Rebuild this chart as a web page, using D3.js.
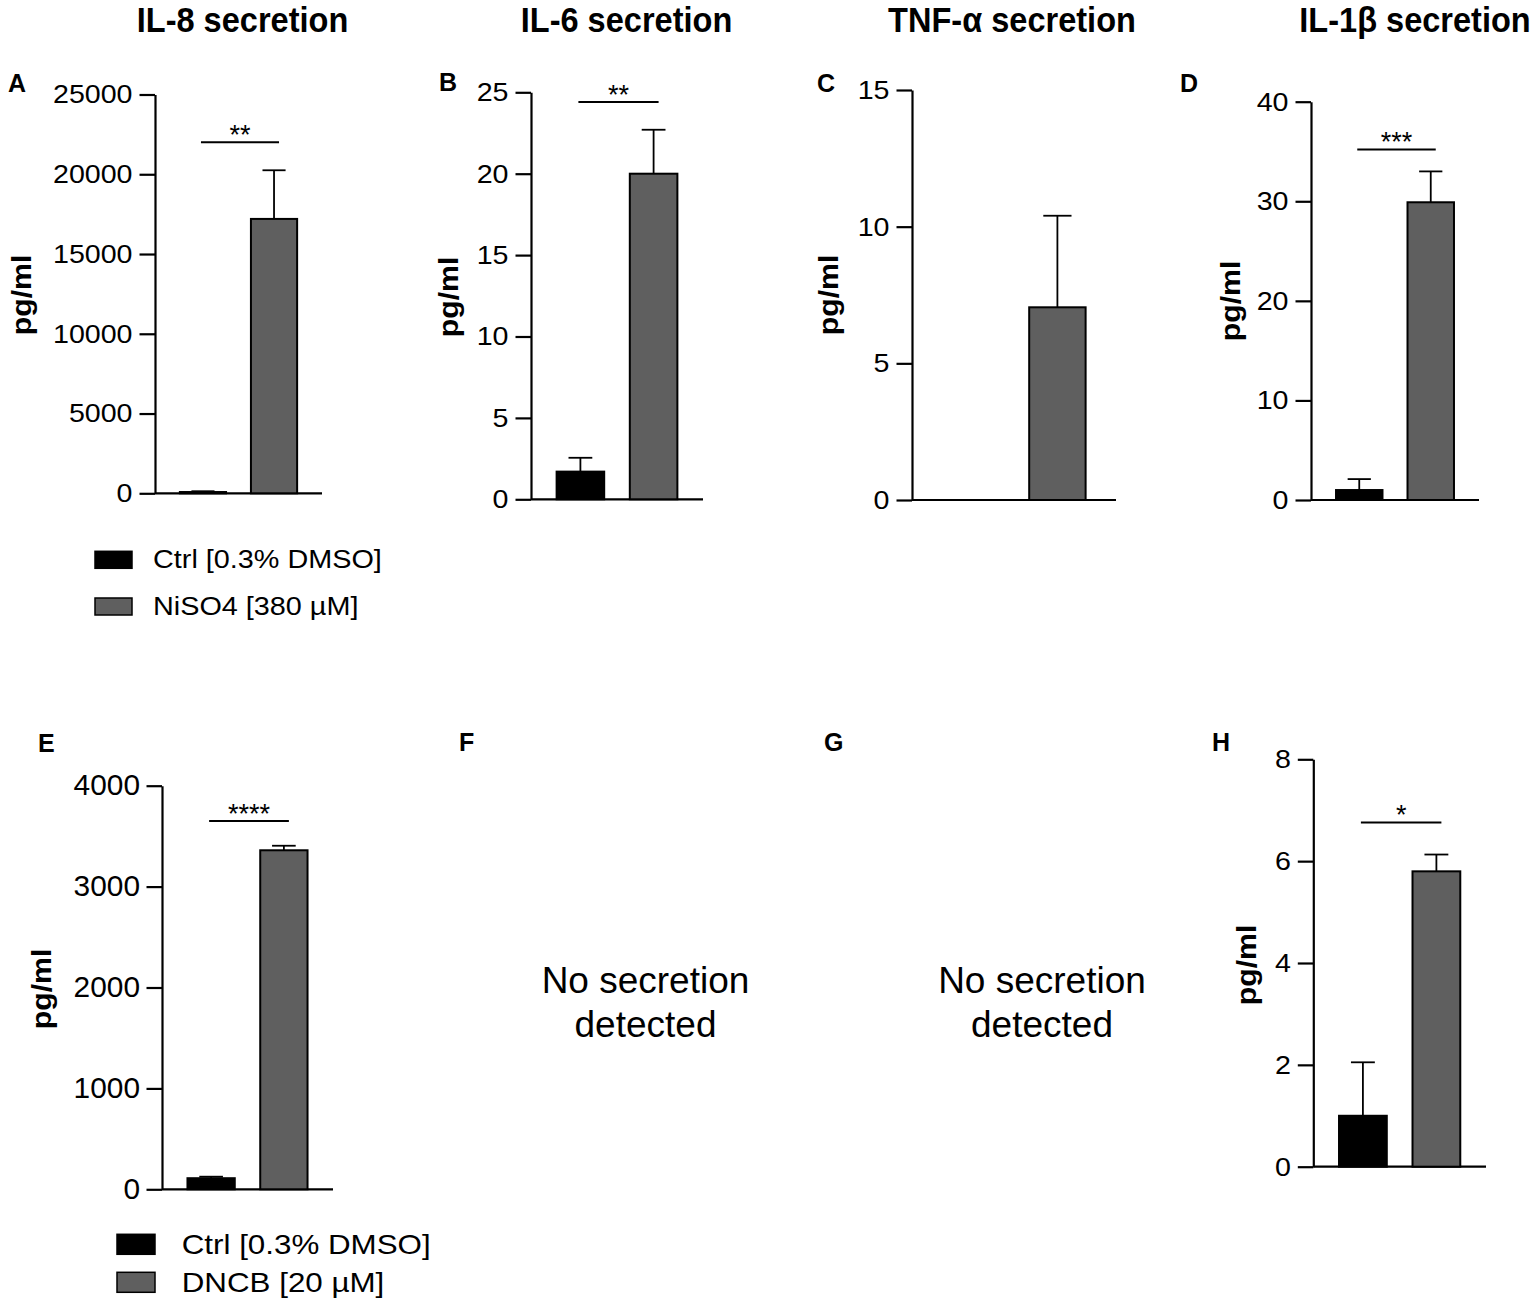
<!DOCTYPE html>
<html>
<head>
<meta charset="utf-8">
<script src="https://cdn.jsdelivr.net/npm/d3@7"></script>
<style>
  html, body { margin: 0; padding: 0; background: #ffffff; }
  svg { display: block; font-family: "Liberation Sans", Arial, Helvetica, sans-serif; }
</style>
</head>
<body>
<svg id="chart" width="1535" height="1306"></svg>
<script>
// ---------------- DATA ----------------
const groupKeys = ["ctrl", "treat"];

const titles = ["IL-8 secretion", "IL-6 secretion", "TNF-α secretion", "IL-1β secretion"];
const legendTop = ["Ctrl [0.3% DMSO]", "NiSO4 [380 µM]"];
const legendBottom = ["Ctrl [0.3% DMSO]", "DNCB [20 µM]"];
const yLabel = "pg/ml";
const noSecretionText = ["No secretion", "detected"];

// means (ctrl, treated)
const meansA = [80, 17200];
const meansB = [1.7, 20.0];
const meansC = [0, 7.05];
const meansD = [1.0, 29.9];
const meansE = [110, 3360];
const meansH = [1.0, 5.8];

// upper error (SEM) (ctrl, treated)
const errA = [50, 3050];
const errB = [0.85, 2.7];
const errC = [0, 3.35];
const errD = [1.1, 3.1];
const errE = [15, 45];
const errH = [1.05, 0.33];

// y-axis tick values
const ticksA = [0, 5000, 10000, 15000, 20000, 25000];
const ticksB = [0, 5, 10, 15, 20, 25];
const ticksC = [0, 5, 10, 15];
const ticksD = [0, 10, 20, 30, 40];
const ticksE = [0, 1000, 2000, 3000, 4000];
const ticksH = [0, 2, 4, 6, 8];

// significance annotations (label, y-level in data units)
const sigLabels = {A: "**", B: "**", C: null, D: "***", E: "****", H: "*"};
const sigLevels = {A: 22000, B: 24.4, C: null, D: 35.2, E: 3650, H: 6.76};

// ---------------- LAYOUT ----------------
const panels = [
  {id: "A", means: meansA, errs: errA, ticks: ticksA, x0: 155, x1: 322, yTop: 94.5, yBot: 493.3, lab: [31, 295], letter: [8, 92], tf: 26, tsx: 1.1, tpad: 7},
  {id: "B", means: meansB, errs: errB, ticks: ticksB, x0: 531, x1: 703, yTop: 92.3, yBot: 499.3, lab: [457.5, 297], letter: [439, 91], tf: 26.5, tsx: 1.08, tpad: 7},
  {id: "C", means: meansC, errs: errC, ticks: ticksC, x0: 912, x1: 1116, yTop: 90, yBot: 500, lab: [837.5, 295], letter: [817, 92], tf: 26.5, tsx: 1.08, tpad: 7},
  {id: "D", means: meansD, errs: errD, ticks: ticksD, x0: 1311, x1: 1479, yTop: 101.7, yBot: 500, lab: [1239.5, 301], letter: [1180, 92], tf: 26.5, tsx: 1.08, tpad: 7},
  {id: "E", means: meansE, errs: errE, ticks: ticksE, x0: 162, x1: 333, yTop: 785.7, yBot: 1189.3, lab: [51, 989], letter: [38, 752], tf: 29, tsx: 1.03, tpad: 6.5},
  {id: "H", means: meansH, errs: errH, ticks: ticksH, x0: 1313.3, x1: 1486, yTop: 759.3, yBot: 1166.7, lab: [1256, 965], letter: [1212, 751], tf: 26.5, tsx: 1.08, tpad: 7}
];
const emptyPanels = [
  {id: "F", letter: [459, 751], cx: 645.5},
  {id: "G", letter: [824, 751], cx: 1042}
];
const titleX = [242.5, 626.5, 1012, 1415];

const fills = {ctrl: "#000000", treat: "#5f5f5f"};
const FONT = '"Liberation Sans", Arial, Helvetica, sans-serif';

const svg = d3.select("#chart");

function stext(parent, x, y, str, o) {
  o = o || {};
  const sx = o.sx || 1;
  const rot = o.rotate ? ` rotate(${o.rotate})` : "";
  return parent.append("text")
    .attr("transform", `translate(${x},${y})${rot} scale(${sx},1)`)
    .attr("font-size", o.size || 26)
    .attr("font-weight", o.bold ? "bold" : "normal")
    .attr("text-anchor", o.anchor || "start")
    .attr("fill", "#000")
    .style("font-family", FONT)
    .text(str);
}

// titles
titles.forEach((t, i) => {
  stext(svg, titleX[i], 31.5, t, {size: 35, bold: true, anchor: "middle", sx: 0.93});
});

// panels with bars
panels.forEach(p => {
  const g = svg.append("g");
  const yMax = p.ticks[p.ticks.length - 1];
  const y = d3.scaleLinear().domain([0, yMax]).range([p.yBot, p.yTop]);
  const x = d3.scaleBand().domain(groupKeys).range([p.x0, p.x1])
    .paddingInner(0.35).paddingOuter(0.35).align(0.5);
  const bw = x.bandwidth();

  // y axis
  const ax = g.append("g")
    .attr("transform", `translate(${p.x0},0)`)
    .call(d3.axisLeft(y).tickValues(p.ticks).tickFormat(d3.format("d"))
      .tickSize(15.5).tickPadding(p.tpad).tickSizeOuter(0));
  ax.select(".domain").attr("stroke", "#000").attr("stroke-width", 2.2);
  ax.selectAll(".tick line").attr("stroke", "#000").attr("stroke-width", 2.2);
  ax.selectAll(".tick text").each(function () {
    const t = d3.select(this);
    const xx = +t.attr("x");
    t.attr("x", 0).attr("transform", `translate(${xx},0) scale(${p.tsx},1)`)
      .attr("font-size", p.tf).attr("fill", "#000").style("font-family", FONT);
  });

  // x axis baseline
  g.append("line")
    .attr("x1", p.x0).attr("x2", p.x1)
    .attr("y1", y(0)).attr("y2", y(0))
    .attr("stroke", "#000").attr("stroke-width", 2.2);

  const rows = groupKeys.map((k, i) => ({key: k, mean: p.means[i], err: p.errs[i]}));

  // error bars (upper)
  rows.filter(d => d.err > 0).forEach(d => {
    const cx = x(d.key) + bw / 2;
    g.append("line").attr("x1", cx).attr("x2", cx)
      .attr("y1", y(d.mean)).attr("y2", y(d.mean + d.err))
      .attr("stroke", "#000").attr("stroke-width", 1.8);
    g.append("line").attr("x1", cx - bw / 4).attr("x2", cx + bw / 4)
      .attr("y1", y(d.mean + d.err)).attr("y2", y(d.mean + d.err))
      .attr("stroke", "#000").attr("stroke-width", 1.8);
  });

  // bars
  g.selectAll("rect.bar").data(rows.filter(d => d.mean > 0)).join("rect")
    .attr("class", "bar")
    .attr("x", d => x(d.key))
    .attr("width", bw)
    .attr("y", d => y(d.mean))
    .attr("height", d => y(0) - y(d.mean))
    .attr("fill", d => fills[d.key])
    .attr("stroke", "#000").attr("stroke-width", 2);

  // significance
  if (sigLabels[p.id]) {
    const ly = y(sigLevels[p.id]);
    const xa = x("ctrl") + bw / 2 - 2;
    const xb = x("treat") + bw / 2 + 5;
    g.append("line").attr("x1", xa).attr("x2", xb).attr("y1", ly).attr("y2", ly)
      .attr("stroke", "#000").attr("stroke-width", 2);
    stext(g, (xa + xb) / 2, ly + 1.5, sigLabels[p.id], {size: 27, anchor: "middle"});
  }

  // y label
  stext(svg, p.lab[0], p.lab[1], yLabel, {size: 27.5, bold: true, anchor: "middle", rotate: -90, sx: 1.1});
  // panel letter
  stext(svg, p.letter[0], p.letter[1], p.id, {size: 25, bold: true});
});

// empty panels
emptyPanels.forEach(p => {
  stext(svg, p.letter[0], p.letter[1], p.id, {size: 25, bold: true});
  stext(svg, p.cx, 992.7, noSecretionText[0], {size: 37, anchor: "middle"});
  stext(svg, p.cx, 1036.7, noSecretionText[1], {size: 37, anchor: "middle"});
});

// legends
function legend(items, x, sqW, sqH, textX, rows, size, sx) {
  items.forEach((label, i) => {
    const r = rows[i];
    svg.append("rect").attr("x", x).attr("y", r - sqH).attr("width", sqW).attr("height", sqH)
      .attr("fill", fills[groupKeys[i]]).attr("stroke", "#000").attr("stroke-width", 1.5);
    stext(svg, textX, r, label, {size: size, sx: sx});
  });
}
legend(legendTop, 95, 37, 17, 153, [568.3, 615], 25.5, 1.13);
legend(legendBottom, 117, 38, 20, 181.7, [1254.3, 1292.3], 27.5, 1.14);
</script>
</body>
</html>
